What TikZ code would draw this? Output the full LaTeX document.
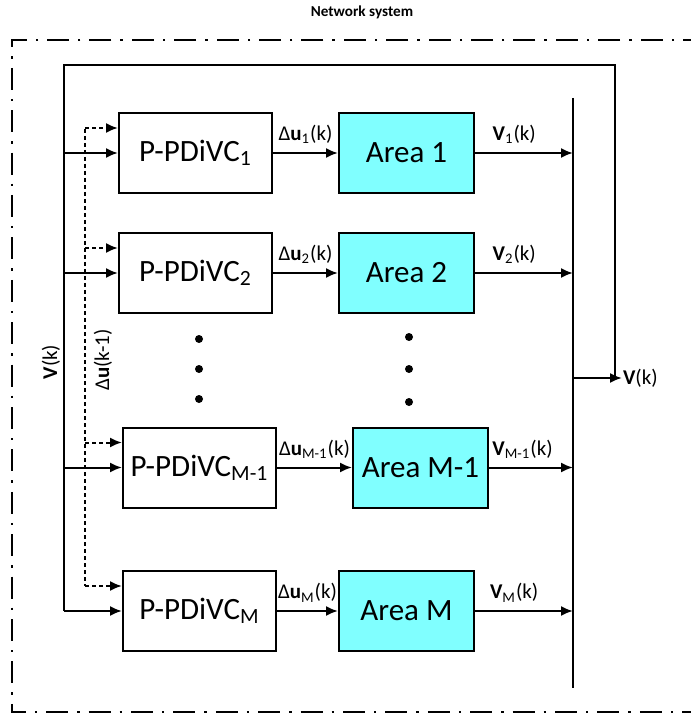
\documentclass[tikz,border=0pt]{standalone}
\usepackage{fontspec}
\setmainfont{Carlito}
\usetikzlibrary{arrows.meta}

\definecolor{areacyan}{RGB}{128,255,255}

\tikzset{
    ctrlbox/.style={draw, line width=1pt, fill=white, minimum width=76.5pt, minimum height=40pt,
        inner sep=0pt, font=\fontsize{15.5}{18}\selectfont},
    areabox/.style={draw, line width=1pt, fill=areacyan, minimum width=67.5pt, minimum height=40pt,
        inner sep=0pt, font=\fontsize{15.5}{18}\selectfont},
    sig/.style={font=\fontsize{10.5}{12}\selectfont, inner sep=1pt},
    wire/.style={line width=1pt},
    arr/.style={wire, -{Latex[length=6pt,width=5pt]}},
    darr/.style={arr, dash pattern=on 2pt off 1.5pt},
}

\newcommand{\du}[1]{Δ\textbf{u}\textsubscript{#1}(k)}
\newcommand{\vv}[1]{\textbf{V}\textsubscript{#1}(k)}

\begin{document}
\begin{tikzpicture}[x=0.5pt, y=-0.5pt]
    \useasboundingbox (0,0) rectangle (690,716);

    % frame
    \node[font=\fontsize{7.6}{9}\selectfont\bfseries] (title) at (362,12) {Network system};
    \draw[line width=1pt, dash pattern=on 11pt off 4.5pt on 1.2pt off 4.5pt]
        (705,40) -- (12,40) -- (12,712) -- (705,712);

    % controllers and areas
    \node[ctrlbox] (c1) at (195.5,153) {P-PDiVC\textsubscript{1}};
    \node[ctrlbox] (c2) at (195.5,273) {P-PDiVC\textsubscript{2}};
    \node[ctrlbox] (c3) at (199.5,467.5) {P-PDiVC\textsubscript{M-1}};
    \node[ctrlbox] (c4) at (199.5,611) {P-PDiVC\textsubscript{M}};

    \node[areabox] (a1) at (406.5,153) {Area 1};
    \node[areabox] (a2) at (406.5,273) {Area 2};
    \node[areabox] (a3) at (420.5,467.5) {Area M-1};
    \node[areabox] (a4) at (406.5,611) {Area M};

    % dots
    \foreach \y in {339,369,399} \fill (199,\y) circle (2pt);
    \foreach \y in {337,369,402} \fill (409,\y) circle (2pt);

    % bus and feedback
    \coordinate (bustop) at (573,98);
    \coordinate (busbot) at (573,688);
    \coordinate (busout) at (573,378);
    \coordinate (fbr) at (615,378);
    \coordinate (vout) at (622,378);
    \coordinate (fbl) at (64,65);
    \coordinate (dul) at (85,129);
    \draw[wire] (bustop) -- (busbot);
    \draw[arr] (busout) -- (vout) node[right=-1pt, font=\fontsize{10.5}{12}\selectfont, inner sep=1pt] (vlab) {\textbf{V}(k)};
    \draw[wire] (fbr) -- (fbr |- fbl) -- (fbl) -- (fbl |- c4.west);
    \draw[wire, dash pattern=on 2pt off 1.5pt] (dul) -- (dul |- 0,586);

    \node[sig, rotate=90] (vk) at (51,362) {\textbf{V}(k)};
    \node[sig, rotate=90] (duk) at (103,360) {Δ\textbf{u}(k-1)};

    \foreach \i/\lab in {1/1,2/2,3/M-1,4/M} {
        \draw[arr] (c\i.west -| fbl) -- (c\i.west);
        \draw[darr] ([yshift=12.5pt]c\i.west -| dul) -- ([yshift=12.5pt]c\i.west);
        \draw[arr] (c\i.east) -- node[sig, above=3pt] {\du{\lab}} (a\i.west);
        \draw[arr] (a\i.east) -- node[sig, above=3pt, pos=0.4] {\vv{\lab}} (a\i.east -| bustop);
    }

\end{tikzpicture}
\end{document}
